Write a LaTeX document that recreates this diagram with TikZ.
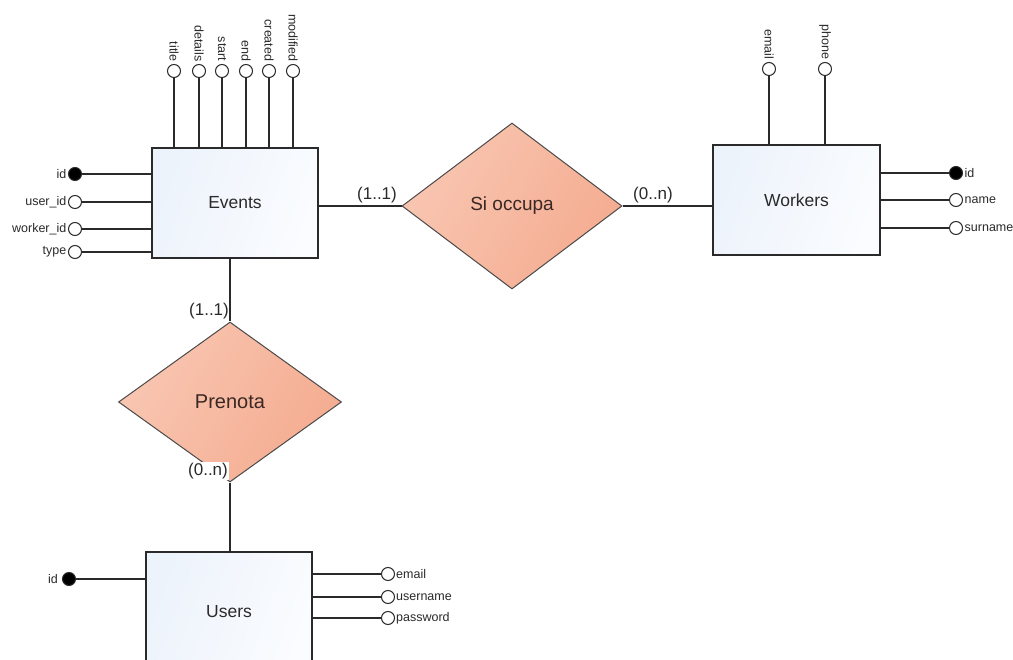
\documentclass[tikz,border=0pt]{standalone}
\usepackage{fontspec}
\setmainfont{Liberation Sans}
\usetikzlibrary{shapes.geometric}

\definecolor{ink}{HTML}{2A2A2A}
\definecolor{relink}{HTML}{3A2824}
\definecolor{boxL}{HTML}{EDF3FB}
\definecolor{boxR}{HTML}{FAFCFF}
\definecolor{relL}{HTML}{F9C6B2}
\definecolor{relR}{HTML}{F4AC90}

\begin{document}
\begin{tikzpicture}[x=1pt,y=-1pt,
  entity/.style={draw=ink, line width=1.2pt, left color=boxL, right color=boxR,
    shading angle=70, text=ink, font=\fontsize{17.5}{20}\selectfont},
  relation/.style={diamond, draw=ink!85, line width=1pt, left color=relL, right color=relR,
    shading angle=60, inner sep=0pt, text=relink},
  attr/.style={circle, draw=ink, line width=1pt, fill=white, minimum size=13pt, inner sep=0pt},
  keyattr/.style={attr, fill=black},
  link/.style={draw=ink, line width=1.2pt},
  lab/.style={text=ink, inner sep=1.5pt, font=\fontsize{12.5}{14}\selectfont},
  vlab/.style={lab, rotate=-90, anchor=east, inner sep=2.5pt},
  card/.style={text=ink, inner sep=1pt, font=\fontsize{17}{19}\selectfont}
]
\clip (0,0) rectangle (1013,660);
\fill[white] (0,0) rectangle (1013,660);

% entities
\node[entity, minimum width=166pt, minimum height=110pt] (ev) at (235,203) {Events};
\node[entity, minimum width=167pt, minimum height=110pt] (wk) at (796.5,200) {Workers};
\node[entity, minimum width=166pt, minimum height=120pt] (us) at (229,612) {Users};

% relationships
\node[relation, minimum width=220pt, minimum height=166pt,
      font=\fontsize{19}{21}\selectfont] (so) at (512,206) {Si occupa};
\node[relation, minimum width=223pt, minimum height=160pt,
      font=\fontsize{20}{22}\selectfont] (pr) at (230,402) {Prenota};

% Events: attributes on top
\foreach \x/\n in {174/title, 199/details, 222/start, 246/end, 269/created, 293/modified}{
  \node[attr] (ev-\n) at (\x,71) {};
  \node[vlab] (ev-\n-l) at (ev-\n.north) {\n};
  \draw[link] (ev-\n) -- (ev-\n |- ev.north);
}
% Events: attributes on the left
\node[keyattr] (ev-id) at (75,174) {};
\foreach \y/\n in {202/uid, 229/wid, 252/type}{
  \node[attr] (ev-\n) at (75,\y) {};
}
\foreach \n/\t in {id/id, uid/user\_id, wid/worker\_id, type/type}{
  \node[lab, anchor=east] (ev-\n-l) at (ev-\n.west) {\t};
  \draw[link] (ev-\n) -- (ev-\n -| ev.west);
}

% Workers: attributes on top
\foreach \x/\n in {769/email, 825/phone}{
  \node[attr] (wk-\n) at (\x,69) {};
  \node[vlab] (wk-\n-l) at (wk-\n.north) {\n};
  \draw[link] (wk-\n) -- (wk-\n |- wk.north);
}
% Workers: attributes on the right
\node[keyattr] (wk-id) at (956,173) {};
\node[attr] (wk-name) at (956,200) {};
\node[attr] (wk-surname) at (956,228) {};
\foreach \n in {id, name, surname}{
  \node[lab, anchor=west] (wk-\n-l) at (wk-\n.east) {\n};
  \draw[link] (wk-\n) -- (wk-\n -| wk.east);
}

% Users: attributes
\node[keyattr] (us-id) at (69,579) {};
\node[lab, anchor=east, inner sep=4pt] (us-id-l) at (us-id.west) {id};
\draw[link] (us-id) -- (us-id -| us.west);
\node[attr] (us-email) at (388,574) {};
\node[attr] (us-username) at (388,597) {};
\node[attr] (us-password) at (388,618) {};
\foreach \n in {email, username, password}{
  \node[lab, anchor=west, inner sep=1pt] (us-\n-l) at (us-\n.east) {\n};
  \draw[link] (us-\n) -- (us-\n -| us.east);
}

% relationship links
\draw[link] (so.west -| ev.east) -- (so.west);
\draw[link] (so.east) -- (so.east -| wk.west);
\draw[link] (pr.north |- ev.south) -- (pr.north);
\draw[link] (pr.south) -- (pr.south |- us.north);

% cardinalities
\node[card] (c-ev-so) at (377,195) {(1..1)};
\node[card] (c-so-wk) at (653,195) {(0..n)};
\node[card] (c-ev-pr) at (209,311) {(1..1)};
\node[card, fill=white] (c-pr-us) at (208,471) {(0..n)};
\end{tikzpicture}
\end{document}
